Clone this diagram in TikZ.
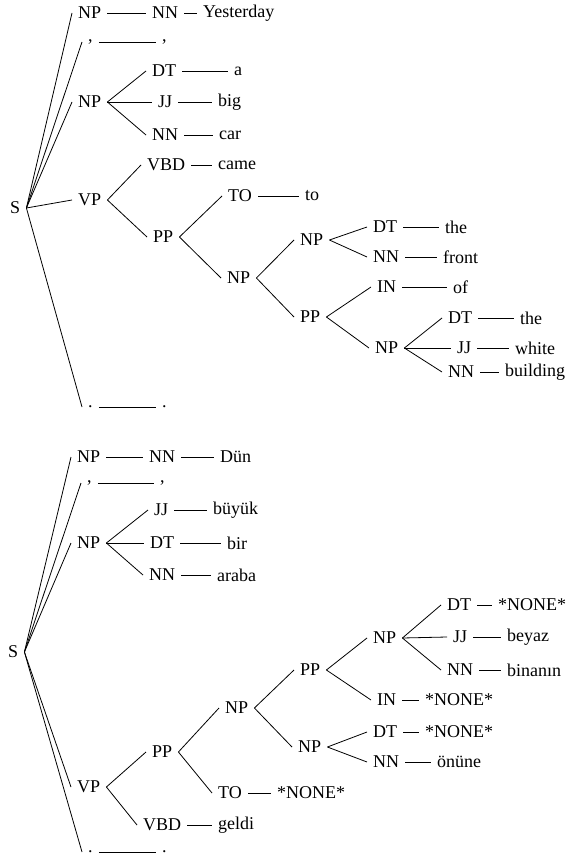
\documentclass[tikz,border=0pt]{standalone}
\usepackage{fontspec}
\setmainfont{Liberation Serif}
\newfontfamily\treefont{Liberation Serif}
\begin{document}
\begin{tikzpicture}[x=1pt,y=-1pt,
  lab/.style={anchor=west, xshift=-6pt, inner xsep=6pt, inner ysep=1pt, font=\treefont\fontsize{18}{21}\selectfont},
  edge/.style={line width=0.8pt}]
\useasboundingbox (0,0) rectangle (567,858);
% ---------------- top tree ----------------
\node[lab] (S) at (10,208) {S};
\node[lab] (a1) at (78,13) {NP};
\node[lab] (a1n) at (152,13) {NN};
\node[lab] (a1w) at (203,13) {Yesterday};
\node[lab] (ac1) at (88,42) {,};
\node[lab] (ac2) at (162,42) {,};
\node[lab] (a2) at (78,102) {NP};
\node[lab] (a2d) at (152,71) {DT};
\node[lab] (a2dw) at (234,71) {a};
\node[lab] (a2j) at (158,102) {JJ};
\node[lab] (a2jw) at (218,102) {big};
\node[lab] (a2n) at (152,135) {NN};
\node[lab] (a2nw) at (219,135) {car};
\node[lab] (avp) at (78,200) {VP};
\node[lab] (avbd) at (147,165) {VBD};
\node[lab] (avbdw) at (218,165) {came};
\node[lab] (app) at (153,237) {PP};
\node[lab] (ato) at (228,196) {TO};
\node[lab] (atow) at (305,196) {to};
\node[lab] (anp3) at (227,278) {NP};
\node[lab] (anp4) at (300,240) {NP};
\node[lab] (adt4) at (373,227) {DT};
\node[lab] (adt4w) at (445,227) {the};
\node[lab] (ann4) at (373,257) {NN};
\node[lab] (ann4w) at (443,257) {front};
\node[lab] (app5) at (300,317) {PP};
\node[lab] (ain5) at (377,287) {IN};
\node[lab] (ain5w) at (453,287) {of};
\node[lab] (anp6) at (375,348) {NP};
\node[lab] (adt6) at (448,318) {DT};
\node[lab] (adt6w) at (520,318) {the};
\node[lab] (ajj6) at (457,348) {JJ};
\node[lab] (ajj6w) at (515,348) {white};
\node[lab] (ann6) at (448,372) {NN};
\node[lab] (ann6w) at (505,372) {building};
\node[lab] (ap1) at (88,407) {.};
\node[lab] (ap2) at (162,407) {.};
\foreach \c in {a1,ac1,a2,avp,ap1} \draw[edge] (S.east) -- (\c.west);
\draw[edge] (a1.east) -- (a1n.west);
\draw[edge] (a1n.east) -- (a1w.west);
\draw[edge] (ac1.east) -- (ac2.west);
\foreach \c in {a2d,a2j,a2n} \draw[edge] (a2.east) -- (\c.west);
\draw[edge] (a2d.east) -- (a2dw.west);
\draw[edge] (a2j.east) -- (a2jw.west);
\draw[edge] (a2n.east) -- (a2nw.west);
\foreach \c in {avbd,app} \draw[edge] (avp.east) -- (\c.west);
\draw[edge] (avbd.east) -- (avbdw.west);
\foreach \c in {ato,anp3} \draw[edge] (app.east) -- (\c.west);
\draw[edge] (ato.east) -- (atow.west);
\foreach \c in {anp4,app5} \draw[edge] (anp3.east) -- (\c.west);
\foreach \c in {adt4,ann4} \draw[edge] (anp4.east) -- (\c.west);
\draw[edge] (adt4.east) -- (adt4w.west);
\draw[edge] (ann4.east) -- (ann4w.west);
\foreach \c in {ain5,anp6} \draw[edge] (app5.east) -- (\c.west);
\draw[edge] (ain5.east) -- (ain5w.west);
\foreach \c in {adt6,ajj6,ann6} \draw[edge] (anp6.east) -- (\c.west);
\draw[edge] (adt6.east) -- (adt6w.west);
\draw[edge] (ajj6.east) -- (ajj6w.west);
\draw[edge] (ann6.east) -- (ann6w.west);
\draw[edge] (ap1.east) -- (ap2.west);
% ---------------- bottom tree ----------------
\node[lab] (T) at (8,652) {S};
\node[lab] (b1) at (77,457) {NP};
\node[lab] (b1n) at (149,457) {NN};
\node[lab] (b1w) at (220,457) {Dün};
\node[lab] (bc1) at (87,483) {,};
\node[lab] (bc2) at (160,483) {,};
\node[lab] (b2) at (77,543) {NP};
\node[lab] (b2j) at (154,510) {JJ};
\node[lab] (b2jw) at (213,510) {büyük};
\node[lab] (b2d) at (150,543) {DT};
\node[lab] (b2dw) at (227,543) {bir};
\node[lab] (b2n) at (149,575) {NN};
\node[lab] (b2nw) at (217,575) {araba};
\node[lab] (bvp) at (77,787) {VP};
\node[lab] (bpp) at (152,752) {PP};
\node[lab] (bvbd) at (143,825) {VBD};
\node[lab] (bvbdw) at (218,825) {geldi};
\node[lab] (bnp3) at (225,708) {NP};
\node[lab] (bto) at (218,793) {TO};
\node[lab] (btow) at (277,793) {*NONE*};
\node[lab] (bpp4) at (300,670) {PP};
\node[lab] (bnp4) at (298,747) {NP};
\node[lab] (bnp5) at (373,638) {NP};
\node[lab] (bin) at (377,700) {IN};
\node[lab] (binw) at (425,700) {*NONE*};
\node[lab] (bdt4) at (373,732) {DT};
\node[lab] (bdt4w) at (425,732) {*NONE*};
\node[lab] (bnn4) at (373,762) {NN};
\node[lab] (bnn4w) at (437,762) {önüne};
\node[lab] (bdt5) at (447,605) {DT};
\node[lab] (bdt5w) at (498,605) {*NONE*};
\node[lab] (bjj5) at (453,637) {JJ};
\node[lab] (bjj5w) at (507,637) {beyaz};
\node[lab] (bnn5) at (447,670) {NN};
\node[lab] (bnn5w) at (507,670) {binanın};
\node[lab] (bp1) at (88,852) {.};
\node[lab] (bp2) at (162,852) {.};
\foreach \c in {b1,bc1,b2,bvp,bp1} \draw[edge] (T.east) -- (\c.west);
\draw[edge] (b1.east) -- (b1n.west);
\draw[edge] (b1n.east) -- (b1w.west);
\draw[edge] (bc1.east) -- (bc2.west);
\foreach \c in {b2j,b2d,b2n} \draw[edge] (b2.east) -- (\c.west);
\draw[edge] (b2j.east) -- (b2jw.west);
\draw[edge] (b2d.east) -- (b2dw.west);
\draw[edge] (b2n.east) -- (b2nw.west);
\foreach \c in {bpp,bvbd} \draw[edge] (bvp.east) -- (\c.west);
\draw[edge] (bvbd.east) -- (bvbdw.west);
\foreach \c in {bnp3,bto} \draw[edge] (bpp.east) -- (\c.west);
\draw[edge] (bto.east) -- (btow.west);
\foreach \c in {bpp4,bnp4} \draw[edge] (bnp3.east) -- (\c.west);
\foreach \c in {bnp5,bin} \draw[edge] (bpp4.east) -- (\c.west);
\draw[edge] (bin.east) -- (binw.west);
\foreach \c in {bdt5,bjj5,bnn5} \draw[edge] (bnp5.east) -- (\c.west);
\draw[edge] (bdt5.east) -- (bdt5w.west);
\draw[edge] (bjj5.east) -- (bjj5w.west);
\draw[edge] (bnn5.east) -- (bnn5w.west);
\foreach \c in {bdt4,bnn4} \draw[edge] (bnp4.east) -- (\c.west);
\draw[edge] (bdt4.east) -- (bdt4w.west);
\draw[edge] (bnn4.east) -- (bnn4w.west);
\draw[edge] (bp1.east) -- (bp2.west);
\end{tikzpicture}
\end{document}
